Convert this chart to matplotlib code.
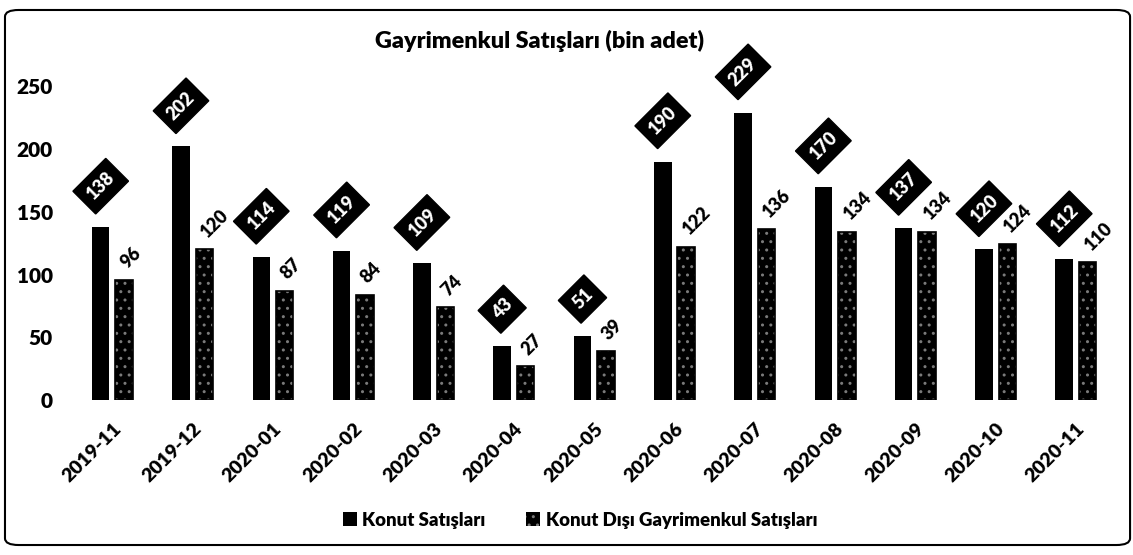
import numpy as np
import matplotlib.pyplot as plt
from matplotlib.patches import FancyBboxPatch

# data
months = ['2019-11', '2019-12', '2020-01', '2020-02', '2020-03', '2020-04', '2020-05',
          '2020-06', '2020-07', '2020-08', '2020-09', '2020-10', '2020-11']
konut = [138, 202, 114, 119, 109, 43, 51, 190, 229, 170, 137, 120, 112]
konut_disi = [96, 120, 87, 84, 74, 27, 39, 122, 136, 134, 134, 124, 110]

title = 'Gayrimenkul Satışları (bin adet)'
label_konut = 'Konut Satışları'
label_disi = 'Konut Dışı Gayrimenkul Satışları'

plt.rcParams['font.family'] = ['Lato', 'DejaVu Sans']
plt.rcParams['hatch.linewidth'] = 1.0
wt = 'heavy'

fig = plt.figure(figsize=(11.33, 5.55), dpi=100)
ax = fig.add_axes([0.0638, 0.279, 0.9213, 0.611])

x = np.arange(len(months))
w = 0.218
off = 0.146

ax.bar(x - off, konut, w, color='black', label=label_konut)
ax.bar(x + off, konut_disi, w, color='black', edgecolor='#7a7a7a', hatch='..',
       linewidth=0, label=label_disi)
ax.bar(x + off, konut_disi, w, fill=False, edgecolor='black', linewidth=1.2)

# value labels: boxed for Konut, plain for Konut Disi
for xi, v in zip(x, konut):
    ax.annotate(str(v), xy=(xi - off, v), xytext=(0, 17), textcoords='offset points',
                ha='center', va='bottom', rotation=45, color='white',
                fontsize=13, fontweight=wt,
                bbox=dict(boxstyle='square,pad=0.42', fc='black', ec='black'))

for xi, v in zip(x, konut_disi):
    ax.annotate(str(v), xy=(xi + off, v), xytext=(-5, 6), textcoords='offset points',
                ha='left', va='bottom', rotation=45, color='black',
                fontsize=13, fontweight=wt)

ax.set_xlim(-0.5, len(months) - 0.5)
ax.set_ylim(0, 270)
ax.set_yticks([0, 50, 100, 150, 200, 250])
ax.set_xticks(x)
ax.set_xticklabels(months, rotation=45, ha='right', rotation_mode='anchor',
                   fontsize=14, fontweight=wt)
for t in ax.get_yticklabels():
    t.set_fontsize(15)
    t.set_fontweight(wt)
ax.tick_params(axis='both', length=0)
ax.tick_params(axis='x', pad=14)
ax.tick_params(axis='y', pad=14)
for s in ax.spines.values():
    s.set_visible(False)

fig.text(0.476, 0.926, title, ha='center', va='center', fontsize=16.8, fontweight=wt)

leg = fig.legend(loc='center', bbox_to_anchor=(0.512, 0.063), ncol=2, frameon=False,
                 prop={'size': 13.4, 'weight': wt}, handlelength=0.75, handleheight=0.75,
                 handletextpad=0.3, columnspacing=2.2)

border = FancyBboxPatch((0.0044, 0.018), 0.993, 0.964, boxstyle='round,pad=0,rounding_size=0.012',
                        transform=fig.transFigure, fill=False, ec='black', lw=1.5)
fig.patches.append(border)

fig.savefig('out.png', dpi=100)
